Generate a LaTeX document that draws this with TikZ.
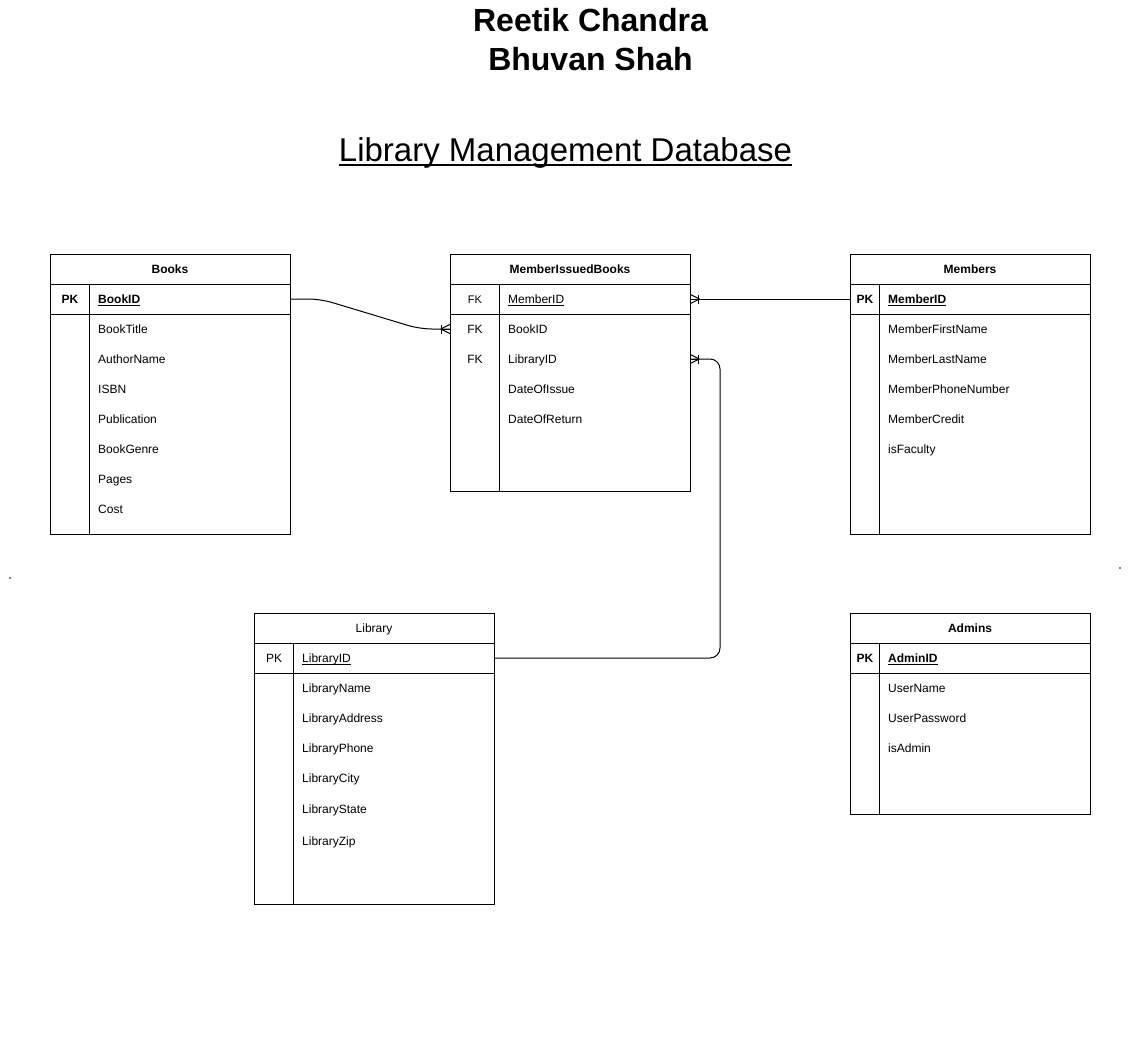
\documentclass[tikz,border=0pt]{standalone}
\usepackage{fontspec}
\setmainfont{Liberation Sans}
\begin{document}
\begin{tikzpicture}[x=1pt,y=-1pt,
  tbl/.style={draw=black, line width=1pt, rectangle, inner sep=0pt, minimum width=240pt},
  rowbox/.style={rectangle, inner sep=0pt, minimum width=240pt, minimum height=30pt},
  hdr/.style={font=\fontsize{12}{14}\selectfont\bfseries, anchor=base, inner sep=0pt},
  hdrn/.style={font=\fontsize{12}{14}\selectfont, anchor=base, inner sep=0pt},
  fld/.style={font=\fontsize{12}{14}\selectfont, anchor=base west, inner sep=0pt},
  fldb/.style={font=\fontsize{12}{14}\selectfont\bfseries, anchor=base west, inner sep=0pt},
  keyb/.style={font=\fontsize{12}{14}\selectfont\bfseries, anchor=base, inner sep=0pt},
  key/.style={font=\fontsize{12}{14}\selectfont, anchor=base, inner sep=0pt},
  ul/.style={draw=black, line width=0.8pt},
  conn/.style={draw=black, line width=1pt},
  crowfoot/.pic={
    \draw[line width=1pt] (-9,0) -- (0,-4.5);
    \draw[line width=1pt] (-9,0) -- (0,4.5);
    \draw[line width=1pt] (-9,0) -- (0,0);
    \draw[line width=1pt] (-8,-4.5) -- (-8,4.5);
  }
]
\useasboundingbox (0,0) rectangle (1131,1038);

% Titles
\node[font=\fontsize{32}{38}\selectfont\bfseries, inner sep=0pt] (author1) at (590.5,20.5) {Reetik Chandra};
\node[font=\fontsize{32}{38}\selectfont\bfseries, inner sep=0pt] (author2) at (590.5,59.5) {Bhuvan Shah};
\node[font=\fontsize{33}{40}\selectfont, anchor=base, inner sep=0pt] (title) at (565.5,161) {Library Management Database};
\draw[line width=1.6pt] ([yshift=-4pt]title.base west) -- ([yshift=-4pt]title.base east);

% ===== Books =====
\node[tbl, minimum height=280pt] (books) at (170,394) {};
\node[tbl, minimum height=30pt] (books-pk) at (170,299) {};
\draw[line width=1pt] ([xshift=40pt]books-pk.north west) -- ([xshift=40pt]books.south west);
\node[hdr] (books-t) at (170,273.3) {Books};
\node[keyb] (books-pkl) at (70,303.3) {PK};
\node[fldb] (books-id) at (98,303.3) {BookID};
\draw[ul] ([yshift=-1.8pt]books-id.base west) -- ([yshift=-1.8pt]books-id.base east);
\foreach \t [count=\i] in {BookTitle,AuthorName,ISBN,Publication,BookGenre,Pages,Cost}
  \node[fld] (books-f\i) at (98,303.3+30*\i) {\t};

% ===== MemberIssuedBooks =====
\node[tbl, minimum height=237pt] (mib) at (570,372.5) {};
\node[tbl, minimum height=30pt] (mib-pk) at (570,299) {};
\draw[line width=1pt] ([xshift=50pt]mib-pk.north west) -- ([xshift=50pt]mib.south west);
\node[hdr] (mib-t) at (570,273.3) {MemberIssuedBooks};
\node[key, font=\fontsize{11}{13}\selectfont] (mib-fk1) at (475,303) {FK};
\node[fld] (mib-id) at (508,303.3) {MemberID};
\draw[ul] ([yshift=-1.8pt]mib-id.base west) -- ([yshift=-1.8pt]mib-id.base east);
\node[rowbox] (mib-book) at (570,329) {};
\node[rowbox] (mib-lib) at (570,359) {};
\node[key] (mib-fk2) at (475,333.3) {FK};
\node[key] (mib-fk3) at (475,363.3) {FK};
\foreach \t [count=\i] in {BookID,LibraryID,DateOfIssue,DateOfReturn}
  \node[fld] (mib-f\i) at (508,303.3+30*\i) {\t};

% ===== Members =====
\node[tbl, minimum height=280pt] (mem) at (970,394) {};
\node[tbl, minimum height=30pt] (mem-pk) at (970,299) {};
\draw[line width=1pt] ([xshift=30pt]mem-pk.north west) -- ([xshift=30pt]mem.south west);
\node[hdr] (mem-t) at (970,273.3) {Members};
\node[keyb] (mem-pkl) at (865,303.3) {PK};
\node[fldb] (mem-id) at (888,303.3) {MemberID};
\draw[ul] ([yshift=-1.8pt]mem-id.base west) -- ([yshift=-1.8pt]mem-id.base east);
\foreach \t [count=\i] in {MemberFirstName,MemberLastName,MemberPhoneNumber,MemberCredit,isFaculty}
  \node[fld] (mem-f\i) at (888,303.3+30*\i) {\t};

% ===== Library =====
\node[tbl, minimum height=291pt] (lib) at (374,758.5) {};
\node[tbl, minimum height=30pt] (lib-pk) at (374,658) {};
\draw[line width=1pt] ([xshift=40pt]lib-pk.north west) -- ([xshift=40pt]lib.south west);
\node[hdrn] (lib-t) at (374,632.3) {Library};
\node[key] (lib-pkl) at (274,662.3) {PK};
\node[fld] (lib-id) at (302,662.3) {LibraryID};
\draw[ul] ([yshift=-1.8pt]lib-id.base west) -- ([yshift=-1.8pt]lib-id.base east);
\node[fld] (lib-f1) at (302,692.3) {LibraryName};
\node[fld] (lib-f2) at (302,722.3) {LibraryAddress};
\node[fld] (lib-f3) at (302,752.3) {LibraryPhone};
\node[fld] (lib-f4) at (302,782.3) {LibraryCity};
\node[fld] (lib-f5) at (302,813.3) {LibraryState};
\node[fld] (lib-f6) at (302,845.3) {LibraryZip};

% ===== Admins =====
\node[tbl, minimum height=201pt] (adm) at (970,713.5) {};
\node[tbl, minimum height=30pt] (adm-pk) at (970,658) {};
\draw[line width=1pt] ([xshift=30pt]adm-pk.north west) -- ([xshift=30pt]adm.south west);
\node[hdr] (adm-t) at (970,632.3) {Admins};
\node[keyb] (adm-pkl) at (865,662.3) {PK};
\node[fldb] (adm-id) at (888,662.3) {AdminID};
\draw[ul] ([yshift=-1.8pt]adm-id.base west) -- ([yshift=-1.8pt]adm-id.base east);
\foreach \t [count=\i] in {UserName,UserPassword,isAdmin}
  \node[fld] (adm-f\i) at (888,662.3+30*\i) {\t};

% ===== Connectors =====
\draw[conn, rounded corners=12pt] (books-pk.east) -- ++(30,0) -- ([xshift=-30pt]mib-book.west) -- (mib-book.west);
\pic at (mib-book.west) {crowfoot};

\draw[conn] (mem-pk.west) -- (mib-pk.east);
\pic[rotate=180] at (mib-pk.east) {crowfoot};

\coordinate (bend) at (720,500);
\draw[conn, rounded corners=10pt] (lib-pk.east) -| (bend) |- (mib-lib.east);
\pic[rotate=180] at (mib-lib.east) {crowfoot};

% stray dots
\fill[black] (10,578) circle (0.8);
\fill[black] (1120,568) circle (0.8);
\end{tikzpicture}
\end{document}
